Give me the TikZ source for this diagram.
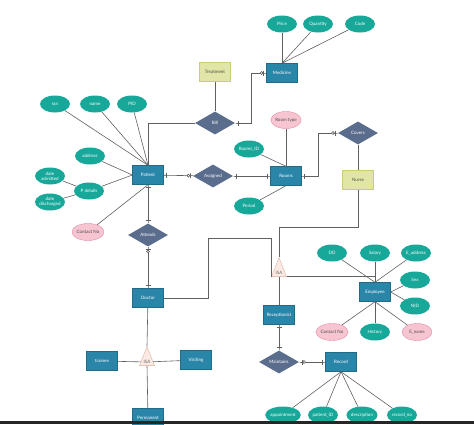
\documentclass[tikz,border=0pt]{standalone}
\usepackage[usenames,dvipsnames]{xcolor}
\usepackage{fontspec}
\setmainfont{Lato}
\usepackage{tikz}
\usetikzlibrary{shapes, arrows.meta, positioning}

\definecolor{entityblue}{HTML}{2A86A8}
\definecolor{attrteal}{HTML}{17A899}
\definecolor{relslate}{HTML}{5B6D8C}
\definecolor{multipink}{HTML}{F7C5D2}
\definecolor{multiborder}{HTML}{E58CA5}
\definecolor{weakfill}{HTML}{E1E5A5}
\definecolor{weakborder}{HTML}{C7CD7C}
\definecolor{isafill}{HTML}{FBEAE3}
\definecolor{isaborder}{HTML}{DDAE9F}
\definecolor{linkgray}{HTML}{606060}

\begin{document}
\begin{tikzpicture}[
        x=1pt, y=-1pt,
        font=\fontsize{4.5}{5.2}\selectfont,
        entity/.style = {
            rectangle,
            fill=entityblue,
            draw=entityblue!80!black,
            text=white,
            minimum width=31pt,
            minimum height=19pt,
            inner sep=0pt
        },
        attr/.style = {
            ellipse,
            fill=attrteal,
            text=white,
            minimum width=30pt,
            minimum height=17pt,
            inner sep=0pt,
            align=center
        },
        multi/.style = {
            attr,
            fill=multipink,
            draw=multiborder,
            text=black!70
        },
        weak/.style = {
            entity,
            fill=weakfill,
            draw=weakborder,
            text=black!70
        },
        relation/.style = {
            diamond,
            fill=relslate,
            text=white,
            minimum width=40pt,
            minimum height=23pt,
            inner sep=0pt
        },
        isa/.style = {
            isosceles triangle,
            shape border rotate=90,
            isosceles triangle stretches,
            fill=isafill,
            draw=isaborder,
            text=black!60,
            minimum width=15pt,
            minimum height=19pt,
            inner sep=0pt
        },
        link/.style = {draw=linkgray, line width=0.6pt},
        onemark/.tip = {Bar[width=5pt] Rectangle[length=2.5pt, width=0.6pt]},
        zeromark/.tip = {Circle[fill=white, length=3.5pt, width=3.5pt] Bar[width=5pt] Rectangle[length=2.5pt, width=0.6pt]}
    ]
        \useasboundingbox (0,0) rectangle (474,424);

        \node [entity]   (patient)      at (148,175)  {Patient};
        \node [entity]   (medicine)     at (282,73)   {Medicine};
        \node [entity]   (rooms)        at (286,176)  {Rooms};
        \node [entity]   (doctor)       at (148,298)  {Doctor};
        \node [entity]   (employee)     at (375,292)  {Employee};
        \node [entity]   (receptionist) at (279,315)  {Receptionist};
        \node [entity]   (record)       at (341,362)  {Record};
        \node [entity]   (trainee)      at (102,361)  {trainee};
        \node [entity]   (visiting)     at (196,360)  {Visiting};
        \node [entity]   (permanent)    at (148,418)  {Permanent};
        \node [weak]     (treatment)    at (215,72)   {Treatment};
        \node [weak]     (nurse)        at (358,180)  {Nurse};

        \node [relation] (bill)         at (215,123)  {Bill};
        \node [relation] (assigned)     at (213,176)  {Assigned};
        \node [relation] (attends)      at (148,235)  {Attends};
        \node [relation] (covers)       at (358,133)  {Covers};
        \node [relation] (maintains)    at (279,362)  {Maintains};

        \node [isa]      (staffisa)     at (279,273)  {ISA};
        \node [isa]      (doctorisa)    at (147,362)  {ISA};

        \node [attr]     (ssn)          at (55,104)   {ssn};
        \node [attr]     (pname)        at (95,104)   {name};
        \node [attr]     (pid)          at (132,104)  {PID};
        \node [attr]     (address)      at (90,156)   {address};
        \node [attr]     (admitted)     at (50,176)   {date\\admitted};
        \node [attr]     (discharged)   at (50,202)   {date\\discharged};
        \node [attr]     (pdetails)     at (89,191)   {P details};
        \node [multi]    (pcontact)     at (88,232)   {Contact No};
        \node [attr]     (price)        at (282,24)   {Price};
        \node [attr]     (quantity)     at (318,24)   {Quantity};
        \node [attr]     (code)         at (360,24)   {Code};
        \node [multi]    (roomtype)     at (286,120)  {Room type};
        \node [attr]     (roomsid)      at (249,149)  {Rooms\_ID};
        \node [attr]     (period)       at (249,206)  {Period};
        \node [attr]     (dd)           at (332,253)  {DD};
        \node [attr]     (salary)       at (375,253)  {Salary};
        \node [attr]     (eaddress)     at (416,253)  {E\_address};
        \node [attr]     (sex)          at (415,280)  {Sex};
        \node [attr]     (nid)          at (415,306)  {NID};
        \node [multi]    (econtact)     at (332,332)  {Contact No};
        \node [attr]     (history)      at (375,332)  {History};
        \node [multi]    (ename)        at (417,332)  {E\_name};
        \node [attr]     (appointment)  at (283,415)  {appointment};
        \node [attr]     (patientid)    at (323,415)  {patient\_ID};
        \node [attr]     (description)  at (362,415)  {description};
        \node [attr]     (recordno)     at (402,415)  {record\_no};

        \coordinate (billbend)  at (251,73);
        \coordinate (roomsbend) at (318,133);
        \coordinate (docbend)   at (208,238);
        \coordinate (nursebend) at (358,227);

        \path [link]
            (ssn)         edge (patient.north)
            (pname)       edge (patient.north)
            (pid)         edge (patient.north)
            (address)     edge (patient.west)
            (pdetails)    edge (patient.west)
            (pcontact)    edge (patient.south)
            (admitted)    edge (pdetails)
            (discharged)  edge (pdetails)
            (price)       edge (medicine.north)
            (quantity)    edge (medicine.north)
            (code)        edge (medicine.north)
            (roomtype)    edge (rooms.north)
            (roomsid)     edge (rooms.north)
            (period)      edge (rooms.south)
            (dd)          edge (employee.north)
            (salary)      edge (employee.north)
            (eaddress)    edge (employee.north)
            (sex)         edge (employee.east)
            (nid)         edge (employee.east)
            (econtact)    edge (employee.south)
            (history)     edge (employee.south)
            (ename)       edge (employee.south)
            (appointment) edge (record.south)
            (patientid)   edge (record.south)
            (description) edge (record.south)
            (recordno)    edge (record.south)
            (treatment)   edge (bill)
            (covers)      edge (nurse)
            (staffisa.south) edge (receptionist)
            (doctor)      edge (doctorisa.apex)
            (trainee)     edge (doctorisa)
            (doctorisa)   edge (visiting)
            (doctorisa.south) edge (permanent)
            (patient)     edge [{onemark}-{zeromark}] (assigned)
            (assigned)    edge [{onemark}-{onemark}] (rooms)
            (patient)     edge [{onemark}-{onemark}] (attends)
            (attends)     edge [{zeromark}-{onemark}] (doctor)
            (receptionist) edge [{onemark}-{onemark}] (maintains)
            (maintains)   edge [{zeromark}-{onemark}] (record)
        ;

        \draw [link] (bill.west) -| (patient.north);
        \draw [link, {onemark}-{zeromark}] (bill.east) -| (billbend) -- (medicine.west);
        \draw [link, {onemark}-{zeromark}] (rooms.east) -| (roomsbend) -- (covers.west);
        \draw [link] (doctor.east) -| (docbend) -| (staffisa.left corner);
        \draw [link] (nurse.south) -- (nursebend) -| (staffisa.apex);
        \draw [link] (staffisa.right corner) -| (employee.north);

        \fill [black!85] (0,421) rectangle (474,424);
    \end{tikzpicture}
\end{document}
